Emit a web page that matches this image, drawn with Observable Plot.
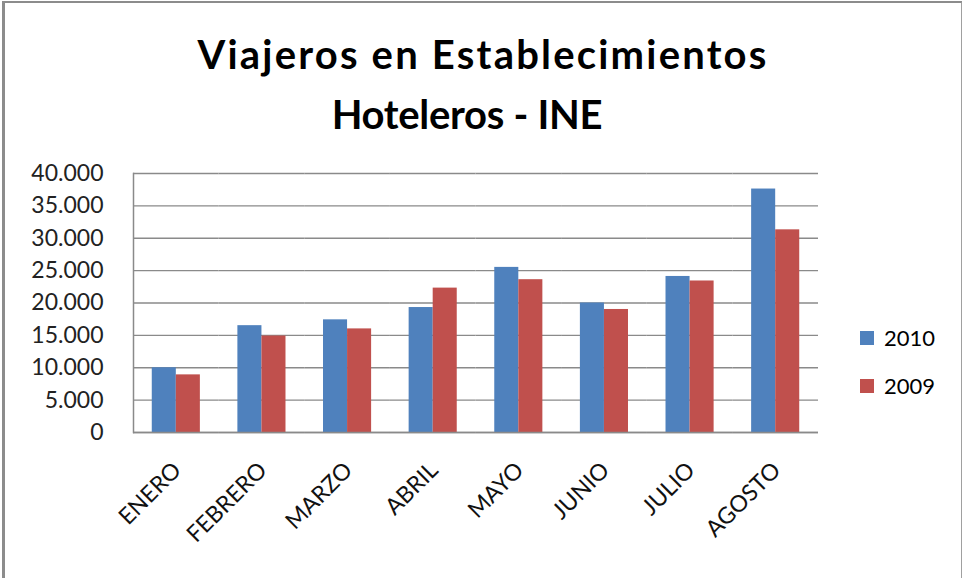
<!DOCTYPE html>
<html>
<head>
<meta charset="utf-8">
<script src="https://cdn.jsdelivr.net/npm/d3@7"></script>
<script src="https://cdn.jsdelivr.net/npm/@observablehq/plot@0.6"></script>
<style>
  html, body { margin: 0; padding: 0; background: #fff; }
  #wrap { position: relative; width: 962px; height: 578px; overflow: hidden; background: #fff; font-family: Lato, "Open Sans", sans-serif; color: #000; }
  #border { position: absolute; left: 2px; top: 1px; width: 956px; height: 600px; border-left: 3px solid #8c8c8c; border-top: 2px solid #8c8c8c; border-right: 2px solid #a0a0a0; }
  #title { position: absolute; left: 2px; top: 24px; width: 962px; text-align: center; font-weight: 700; font-size: 40px; line-height: 60px; }
  #l1 { letter-spacing: 2.2px; }
  #l2 { letter-spacing: -0.3px; position: relative; left: -16px; }
  #chart { position: absolute; left: 0; top: 0; }
  .leg { position: absolute; left: 860px; font-size: 22px; line-height: 22px; display: flex; align-items: center; }
  .sw { width: 14px; height: 14px; margin-right: 10px; }
</style>
</head>
<body>
<div id="wrap">
  <div id="border"></div>
  <div id="title"><span id="l1">Viajeros en Establecimientos</span><br><span id="l2">Hoteleros - INE</span></div>
  <div id="chart"></div>
  <div id="legend"></div>
</div>
<script>
const months = ["ENERO", "FEBRERO", "MARZO", "ABRIL", "MAYO", "JUNIO", "JULIO", "AGOSTO"];
const seriesNames = ["2010", "2009"];
const values2010 = [10000, 16500, 17400, 19300, 25500, 20000, 24100, 37600];
const values2009 = [8900, 14900, 16000, 22300, 23600, 19000, 23400, 31300];
const yTicks = [0, 5000, 10000, 15000, 20000, 25000, 30000, 35000, 40000];
const colors = ["#4F81BD", "#C0504D"];

const table = [];
months.forEach((m, i) => {
  table.push({month: m, series: "2010", value: values2010[i]});
  table.push({month: m, series: "2009", value: values2009[i]});
});

const esFormat = d3.formatLocale({decimal: ",", thousands: ".", grouping: [3], currency: ["", ""]}).format(",");

const chart = Plot.plot({
  width: 962,
  height: 578,
  marginTop: 173,
  marginBottom: 146,
  marginLeft: 133,
  marginRight: 144,
  style: {fontFamily: "Lato, 'Open Sans', sans-serif", fontSize: "22px", color: "#000", background: "transparent"},
  fx: {domain: months, padding: 0, round: false, axis: null, label: null},
  x: {domain: seriesNames, paddingInner: 0, paddingOuter: 0.78, round: false, axis: null, label: null},
  y: {domain: [0, 40000], axis: null, label: null},
  color: {domain: seriesNames, range: colors},
  marks: [
    Plot.gridY(yTicks, {stroke: "#8a8a8a", strokeOpacity: 1, strokeWidth: 1.3}),
    Plot.barY(table, {fx: "month", x: "series", y: "value", fill: "series"}),
    Plot.ruleY([0], {stroke: "#8a8a8a", strokeWidth: 1.5}),
    Plot.frame({anchor: "left", facetAnchor: "left", stroke: "#8a8a8a", strokeWidth: 1.5}),
    Plot.axisY(yTicks, {label: null, tickSize: 0, tickPadding: 30, tickFormat: esFormat, fontSize: 23, fill: "#222"}),
    Plot.text(months, {fx: d => d, text: d => d, frameAnchor: "bottom", rotate: -45, textAnchor: "end", lineAnchor: "middle", dx: 1, dy: 34, fontSize: 23, fill: "#111"})
  ]
});
document.getElementById("chart").appendChild(chart);

const legend = document.getElementById("legend");
const legendTops = [327, 375];
seriesNames.forEach((s, i) => {
  const row = document.createElement("div");
  row.className = "leg";
  row.style.top = legendTops[i] + "px";
  const sw = document.createElement("div");
  sw.className = "sw";
  sw.style.background = colors[i];
  const t = document.createElement("span");
  t.textContent = s;
  row.appendChild(sw);
  row.appendChild(t);
  legend.appendChild(row);
});
</script>
</body>
</html>
